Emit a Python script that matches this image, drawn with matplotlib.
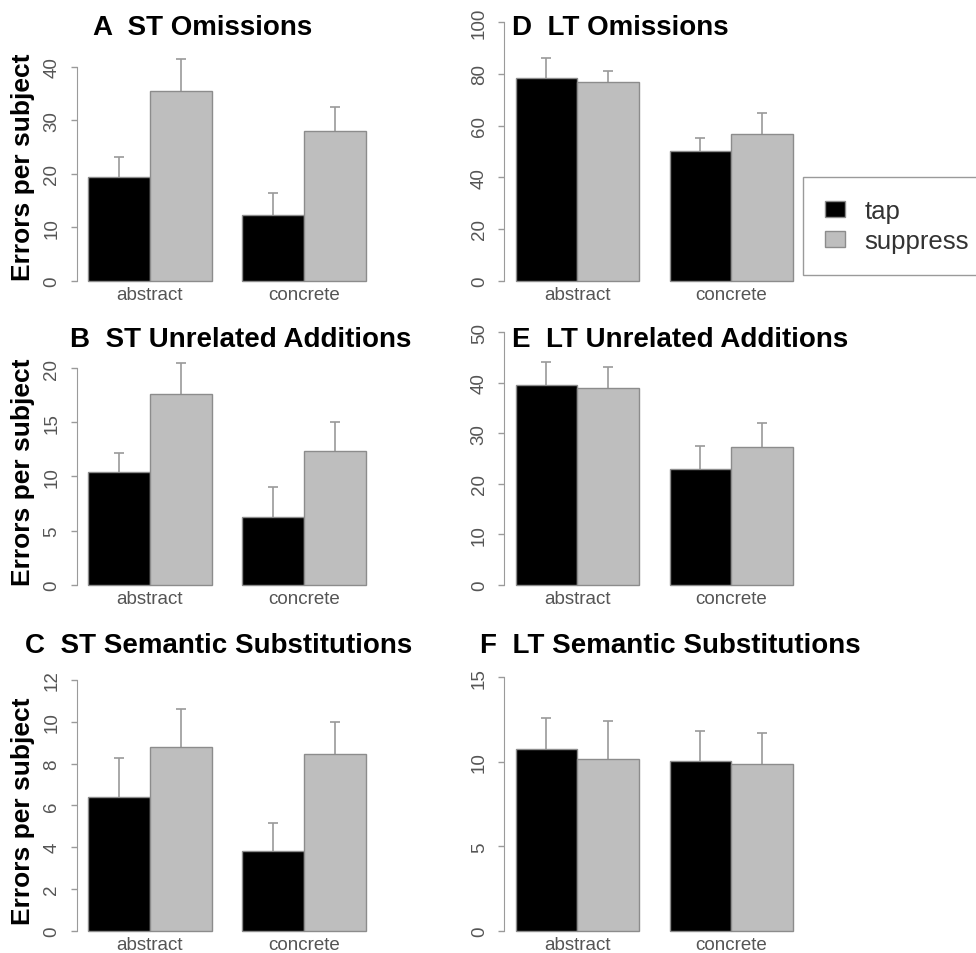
import numpy as np
import matplotlib
matplotlib.use("Agg")
import matplotlib.pyplot as plt
from matplotlib.patches import Patch

plt.rcParams['font.family'] = ['Liberation Sans', 'DejaVu Sans']

conditions = ['abstract', 'concrete']
groups = ['tap', 'suppress']

# panel A  ST omissions
st_om_tap = [19.4, 12.3]
st_om_tap_se = [3.8, 4.1]
st_om_sup = [35.5, 28.0]
st_om_sup_se = [5.9, 4.4]
# panel B  ST unrelated additions
st_ua_tap = [10.4, 6.3]
st_ua_tap_se = [1.8, 2.7]
st_ua_sup = [17.6, 12.4]
st_ua_sup_se = [2.9, 2.6]
# panel C  ST semantic substitutions
st_ss_tap = [6.4, 3.8]
st_ss_tap_se = [1.86, 1.35]
st_ss_sup = [8.8, 8.45]
st_ss_sup_se = [1.8, 1.55]
# panel D  LT omissions
lt_om_tap = [78.3, 50.1]
lt_om_tap_se = [7.7, 5.2]
lt_om_sup = [76.7, 56.8]
lt_om_sup_se = [4.4, 8.0]
# panel E  LT unrelated additions
lt_ua_tap = [39.5, 23.0]
lt_ua_tap_se = [4.5, 4.5]
lt_ua_sup = [39.0, 27.3]
lt_ua_sup_se = [4.0, 4.7]
# panel F  LT semantic substitutions
lt_ss_tap = [10.76, 10.04]
lt_ss_tap_se = [1.84, 1.81]
lt_ss_sup = [10.17, 9.9]
lt_ss_sup_se = [2.27, 1.83]

titles = ['A  ST Omissions', 'B  ST Unrelated Additions', 'C  ST Semantic Substitutions',
          'D  LT Omissions', 'E  LT Unrelated Additions', 'F  LT Semantic Substitutions']
yticks = [np.arange(0, 41, 10), np.arange(0, 21, 5), np.arange(0, 13, 2),
          np.arange(0, 101, 20), np.arange(0, 51, 10), np.arange(0, 16, 5)]

W, H = 976, 954
fig = plt.figure(figsize=(W / 100, H / 100), dpi=100)

BAR_COLORS = ['black', '#bebebe']
EDGE = '#8c8c8c'
AXIS_GRAY = '#9a9a9a'
TEXT_GRAY = '#555555'


def px_rect(left, top, width, height):
    return [left / W, 1 - (top + height) / H, width / W, height / H]


def draw_panel(rect, tap, tap_se, sup, sup_se, ticks, ylim):
    ax = fig.add_axes(rect)
    x = np.arange(len(conditions)) * 2.5
    for i, (vals, se) in enumerate([(tap, tap_se), (sup, sup_se)]):
        xs = x + 1.0 + i
        ax.bar(xs, vals, width=1.0, color=BAR_COLORS[i], edgecolor=EDGE,
               linewidth=1.0, zorder=2)
        eb = ax.errorbar(xs, vals, yerr=[np.zeros(len(vals)), se], fmt='none',
                         ecolor=AXIS_GRAY, elinewidth=1.2, capsize=3.5,
                         capthick=1.2, zorder=1)
        eb[1][0].set_visible(False)
    ax.set_xlim(0.32, 5.18)
    ax.set_ylim(*ylim)
    for s in ['top', 'right', 'bottom']:
        ax.spines[s].set_visible(False)
    ax.spines['left'].set_bounds(ticks[0], ticks[-1])
    ax.spines['left'].set_color(AXIS_GRAY)
    ax.set_yticks(ticks)
    ax.tick_params(axis='y', length=4, width=1, color=AXIS_GRAY, labelcolor=TEXT_GRAY,
                   labelsize=13.5, pad=8)
    for lab in ax.get_yticklabels():
        lab.set_rotation(90)
        lab.set_va('center')
    ax.set_xticks(x + 1.5)
    ax.set_xticklabels(conditions)
    ax.tick_params(axis='x', length=0, labelcolor=TEXT_GRAY, labelsize=13.5, pad=1)
    ax.patch.set_alpha(0)
    return ax


left_x, right_x = 77, 504.5
row_top = [18, 322, 668]
ah = 267.7

draw_panel(px_rect(left_x, row_top[0], 300, ah), st_om_tap, st_om_tap_se, st_om_sup, st_om_sup_se,
           yticks[0], (-0.75, 49.3))
draw_panel(px_rect(left_x, row_top[1], 300, ah), st_ua_tap, st_ua_tap_se, st_ua_sup, st_ua_sup_se,
           yticks[1], (-0.37, 24.37))
draw_panel(px_rect(left_x, row_top[2], 300, ah), st_ss_tap, st_ss_tap_se, st_ss_sup, st_ss_sup_se,
           yticks[2], (-0.19, 12.62))
draw_panel(px_rect(right_x, row_top[0], 299.5, ah), lt_om_tap, lt_om_tap_se, lt_om_sup, lt_om_sup_se,
           yticks[3], (-1.55, 102.0))
draw_panel(px_rect(right_x, row_top[1], 299.5, ah), lt_ua_tap, lt_ua_tap_se, lt_ua_sup, lt_ua_sup_se,
           yticks[4], (-0.79, 52.2))
draw_panel(px_rect(right_x, row_top[2], 299.5, ah), lt_ss_tap, lt_ss_tap_se, lt_ss_sup, lt_ss_sup_se,
           yticks[5], (-0.24, 15.62))

# titles (left x, baseline y in pixels)
title_pos = [(93, 35), (70, 347), (25, 653), (512, 35), (512, 347), (480, 653)]
for t, (tx, ty) in zip(titles, title_pos):
    fig.text(tx / W, 1 - ty / H, t, fontsize=20, fontweight='bold', ha='left', va='baseline')

for cy in [167, 472, 811]:
    fig.text(23 / W, 1 - cy / H, 'Errors per subject', fontsize=19, fontweight='bold',
             rotation=90, ha='center', va='center')

handles = [Patch(facecolor=BAR_COLORS[0], edgecolor=EDGE), Patch(facecolor=BAR_COLORS[1], edgecolor=EDGE)]
leg = fig.legend(handles, groups, loc='upper left', bbox_to_anchor=(803 / W, 1 - 178 / H),
                 fontsize=18.5, frameon=True, fancybox=False, edgecolor=AXIS_GRAY,
                 framealpha=1, borderaxespad=0, borderpad=0.85, labelspacing=0.25,
                 handlelength=0.8, handleheight=0.6, handletextpad=0.75)
leg.get_frame().set_linewidth(1.0)
for txt in leg.get_texts():
    txt.set_color('#333333')

fig.savefig('out.png', dpi=100)
